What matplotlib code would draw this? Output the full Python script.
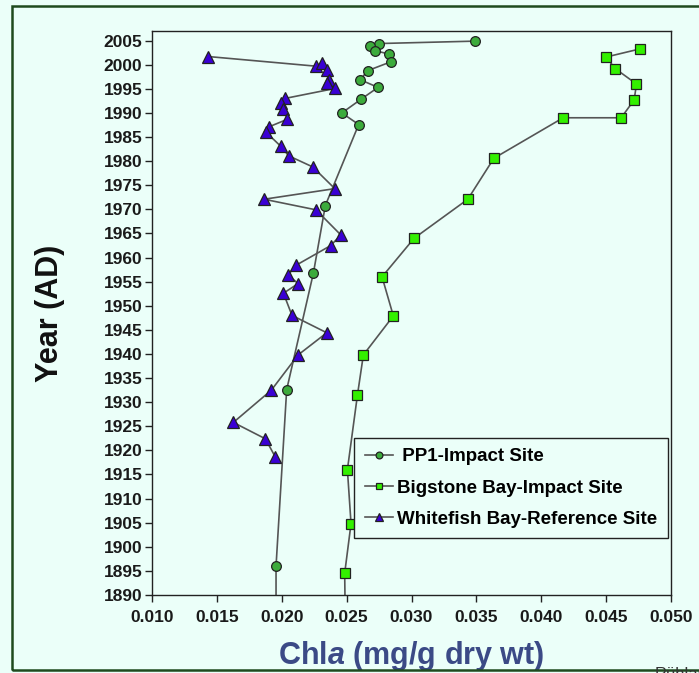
import matplotlib.pyplot as plt

plt.rcParams['font.family'] = ['Liberation Sans', 'DejaVu Sans']
plt.rcParams['font.weight'] = 'bold'
plt.rcParams['mathtext.fontset'] = 'custom'
plt.rcParams['mathtext.bfit'] = 'Liberation Sans:bold:italic'
plt.rcParams['mathtext.bf'] = 'Liberation Sans:bold'

BG = '#ebfff9'

# PP1-Impact Site
pp1_year = [2004.9, 2004.4, 2003.8, 2002.9, 2002.2, 2000.6, 1998.8, 1996.9, 1995.3,
            1992.9, 1990.0, 1987.6, 1970.8, 1956.8, 1932.6, 1896.0, 1885.0]
pp1_chla = [0.03493, 0.02753, 0.02681, 0.02722, 0.02830, 0.02840, 0.02665, 0.02604, 0.02742,
            0.02614, 0.02463, 0.02593, 0.02336, 0.02244, 0.02038, 0.01956, 0.01956]

# Bigstone Bay-Impact Site
big_year = [2003.3, 2001.6, 1999.2, 1996.0, 1992.7, 1989.0, 1989.0, 1980.6, 1972.1,
            1964.0, 1956.0, 1947.9, 1939.8, 1931.4, 1916.0, 1904.8, 1894.5, 1884.0]
big_chla = [0.04763, 0.04500, 0.04570, 0.04734, 0.04716, 0.04616, 0.04169, 0.03635, 0.03434,
            0.03020, 0.02773, 0.02860, 0.02629, 0.02583, 0.02506, 0.02534, 0.02485, 0.02490]

# Whitefish Bay-Reference Site
wf_year = [2001.7, 1999.7, 2000.4, 1998.9, 1996.8, 1996.2, 1995.1, 1993.0, 1992.0, 1990.9,
           1988.7, 1987.1, 1986.0, 1983.1, 1981.1, 1978.8, 1974.3, 1972.1, 1969.9, 1964.7,
           1962.5, 1958.4, 1956.4, 1954.6, 1952.6, 1948.0, 1944.4, 1939.8, 1932.5, 1925.8,
           1922.4, 1918.6]
wf_chla = [0.01434, 0.02264, 0.02311, 0.02347, 0.02362, 0.02347, 0.02414, 0.02023, 0.01992, 0.02013,
           0.02044, 0.01900, 0.01879, 0.01992, 0.02054, 0.02239, 0.02409, 0.01864, 0.02264, 0.02455,
           0.02378, 0.02110, 0.02049, 0.02126, 0.02013, 0.02079, 0.02347, 0.02126, 0.01920, 0.01627,
           0.01874, 0.01951]

x_ticks = [0.010, 0.015, 0.020, 0.025, 0.030, 0.035, 0.040, 0.045, 0.050]
y_ticks = list(range(1890, 2006, 5))

fig = plt.figure(figsize=(6.99, 6.73), dpi=100, facecolor=BG)
ax = fig.add_axes([152 / 699, 78 / 673, 519 / 699, 564 / 673])
ax.set_facecolor(BG)

# frame around the whole figure
fig.patches.append(plt.Rectangle((12 / 699, 3 / 673), 1.0, 664 / 673, transform=fig.transFigure,
                                 fill=False, edgecolor='#1e4a1e', linewidth=1.8, zorder=0))

line_kw = dict(color='#555555', linewidth=1.2, markeredgecolor='#222222', markeredgewidth=0.9)
ax.plot(pp1_chla, pp1_year, marker='o', markersize=7, markerfacecolor='#3cab3c',
        label=' PP1-Impact Site', **line_kw)
ax.plot(big_chla, big_year, marker='s', markersize=6.5, markerfacecolor='#33f000',
        label='Bigstone Bay-Impact Site', **line_kw)
ax.plot(wf_chla, wf_year, marker='^', markersize=8, markerfacecolor='#3a00d4',
        label='Whitefish Bay-Reference Site', **line_kw)

ax.set_xlim(0.010, 0.050)
ax.set_ylim(1890, 2007)
ax.set_xticks(x_ticks)
ax.set_xticklabels(['%.3f' % v for v in x_ticks])
ax.set_yticks(y_ticks)
ax.tick_params(axis='both', direction='out', length=5, width=1, colors='#222222',
               labelsize=12.5, labelcolor='#1a1a1a')
ax.tick_params(axis='x', pad=6)
ax.tick_params(axis='y', pad=2)
for s in ax.spines.values():
    s.set_color('#222222')
    s.set_linewidth(1)

ax.set_xlabel('Chl$\\mathbfit{a}$ (mg/g dry wt)', fontsize=22, fontweight='bold',
              color='#3b4a86', labelpad=10)
ax.set_ylabel('Year (AD)', fontsize=22, fontweight='bold', color='#111111', labelpad=28)

leg = ax.legend(loc='lower right', bbox_to_anchor=(0.994, 0.101), borderaxespad=0,
                fontsize=13.5, frameon=True, fancybox=False, edgecolor='#222222',
                facecolor=BG, framealpha=1, handlelength=1.5, handletextpad=0.25,
                borderpad=0.55, labelspacing=0.75, markerscale=0.7)
leg.get_frame().set_linewidth(1)

fig.text(655 / 699, -6 / 673, 'Rühland', fontsize=12, color='#333333', fontweight='normal')

fig.savefig('out.png', dpi=100, facecolor=BG)
